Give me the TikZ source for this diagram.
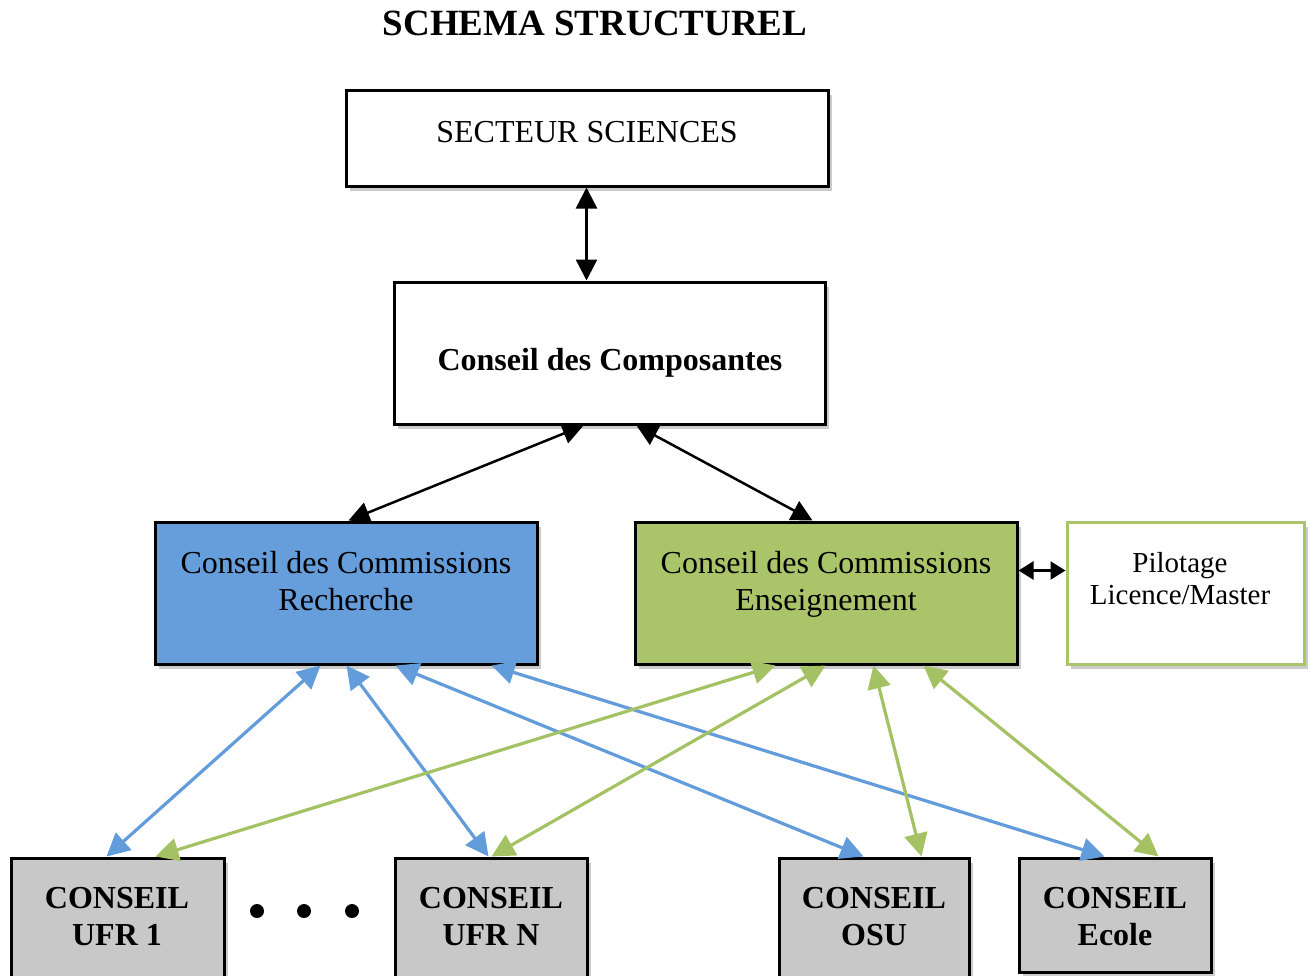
\documentclass[tikz,border=0pt]{standalone}
\usepackage{fontspec}
\setmainfont{Liberation Serif}
\usetikzlibrary{arrows.meta,shadows,calc}
\definecolor{rblue}{RGB}{101,158,218}
\definecolor{egreen}{RGB}{170,196,106}
\definecolor{lgreen}{RGB}{164,194,100}
\definecolor{lblue}{RGB}{98,156,218}
\definecolor{bgray}{RGB}{200,200,200}
\tikzset{
  box/.style={draw=black, line width=3pt, rectangle, inner sep=0pt,
    drop shadow={shadow xshift=4pt, shadow yshift=-5pt, opacity=0.45, fill=black!45}},
  txt/.style={anchor=base, inner sep=0pt, font=\fontsize{32}{37}\selectfont},
  btxt/.style={txt, font=\fontsize{32}{37}\selectfont\bfseries},
  blk/.style={line width=2.5pt, {Triangle[length=21pt,width=21pt]}-{Triangle[length=21pt,width=21pt]}},
  blu/.style={draw=lblue, line width=3.2pt, {Triangle[length=23pt,width=23pt]}-{Triangle[length=23pt,width=23pt]}},
  grn/.style={draw=lgreen, line width=3.2pt, {Triangle[length=23pt,width=23pt]}-{Triangle[length=23pt,width=23pt]}},
}
\begin{document}
\begin{tikzpicture}[x=1pt,y=-1pt]
\useasboundingbox (0,0) rectangle (1311,975);
\clip (0,0) rectangle (1311,975);
\fill[white] (0,0) rectangle (1311,975);

% title
\node[anchor=base, inner sep=0pt, font=\fontsize{37}{40}\selectfont\bfseries] (title) at (595,35) {SCHEMA STRUCTUREL};

% boxes
\node[box, fill=white, minimum width=482pt, minimum height=96pt] (sect) at (587,138) {};
\node[box, fill=white, minimum width=431pt, minimum height=142pt] (comp) at (609.5,353) {};
\node[box, fill=rblue, minimum width=382pt, minimum height=142pt] (rech) at (346,593) {};
\node[box, fill=egreen, minimum width=382pt, minimum height=142pt] (ens) at (826,593) {};
\node[box, draw=egreen, fill=white, minimum width=237pt, minimum height=142pt] (pil) at (1185.5,593) {};
\node[box, fill=bgray, minimum width=213pt, minimum height=132pt] (ufra) at (117.5,924) {};
\node[box, fill=bgray, minimum width=192pt, minimum height=132pt] (ufrn) at (491,924) {};
\node[box, fill=bgray, minimum width=190pt, minimum height=132pt] (osu) at (874,924) {};
\node[box, fill=bgray, minimum width=192pt, minimum height=114pt] (ecole) at (1115,915) {};

% texts
\node[txt] (tsect) at (587,142) {SECTEUR SCIENCES};
\node[btxt] (tcomp) at (610,370) {Conseil des Composantes};
\node[txt] (trech1) at (346,573) {Conseil des Commissions};
\node[txt] (trech2) at (346,610) {Recherche};
\node[txt] (tens1) at (826,573) {Conseil des Commissions};
\node[txt] (tens2) at (826,610) {Enseignement};
\node[txt, font=\fontsize{29}{33}\selectfont] (tpil1) at (1180,572) {Pilotage};
\node[txt, font=\fontsize{29}{33}\selectfont] (tpil2) at (1180,604) {Licence/Master};
\node[btxt] (tufra1) at (117,908) {CONSEIL};
\node[btxt] (tufra2) at (117,945) {UFR 1};
\node[btxt] (tufrn1) at (491,908) {CONSEIL};
\node[btxt] (tufrn2) at (491,945) {UFR N};
\node[btxt] (tosu1) at (874,908) {CONSEIL};
\node[btxt] (tosu2) at (874,945) {OSU};
\node[btxt] (tec1) at (1115,908) {CONSEIL};
\node[btxt] (tec2) at (1115,945) {Ecole};

% dots
\fill (257,911) circle (7);
\fill (304,911) circle (7);
\fill (352,911) circle (7);

% black connectors
\draw[blk] ($(sect.south west)+(242,0)$) -- ($(comp.north west)+(194,0)$);
\draw[blk] ($(comp.south west)+(191,0)$) -- ($(rech.north west)+(195,0)$);
\draw[blk] ($(comp.south west)+(244,0)$) -- ($(ens.north west)+(179,0)$);
\draw[line width=2.5pt, {Triangle[length=15pt,width=18pt]}-{Triangle[length=15pt,width=18pt]}]
  ($(ens.north east)+(0,50)$) -- ($(pil.north west)+(0,50)$);

% blue connectors
\draw[blu] ($(rech.south west)+(167,0)$) -- ($(ufra.north west)+(97,0)$);
\draw[blu] ($(rech.south west)+(193,0)$) -- ($(ufrn.north west)+(95,0)$);
\draw[blu] ($(rech.south west)+(242,0)$) -- ($(osu.north west)+(86,0)$);
\draw[blu] ($(rech.south west)+(338,0)$) -- ($(ecole.north west)+(87,0)$);

% green connectors
\draw[grn] ($(ens.south west)+(142,0)$) -- ($(ufra.north west)+(146,0)$);
\draw[grn] ($(ens.south west)+(192,0)$) -- ($(ufrn.north west)+(98,0)$);
\draw[grn] ($(ens.south west)+(240,0)$) -- ($(osu.north west)+(144,0)$);
\draw[grn] ($(ens.south west)+(290,0)$) -- ($(ecole.north west)+(141,0)$);
\end{tikzpicture}
\end{document}
